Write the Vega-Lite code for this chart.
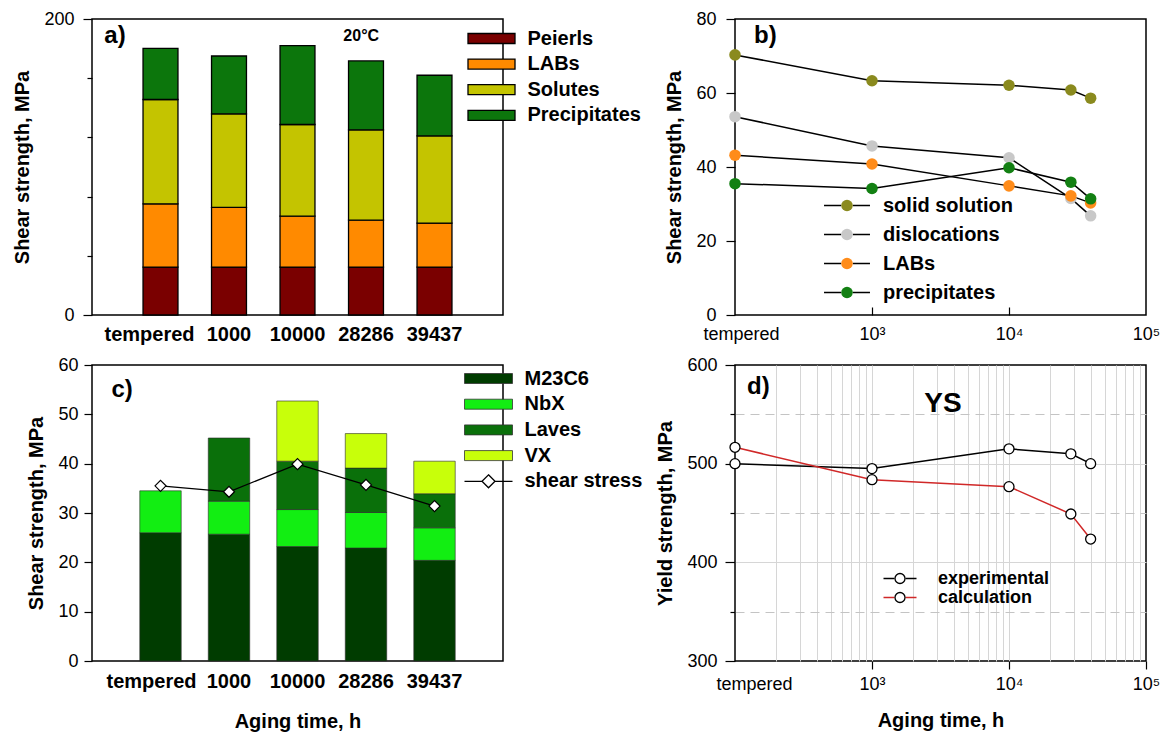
{
 "$schema": "https://vega.github.io/schema/vega-lite/v6.json",
 "padding": {"left": 12, "top": 9, "right": 5, "bottom": 0},
 "background": "white",
 "config": {
  "font": "Liberation Sans",
  "view": {"stroke": "black", "strokeWidth": 1.5},
  "axis": {"domain": false, "grid": false, "labelFont": "Liberation Sans", "labelFontSize": 18, "labelColor": "black", "titleFont": "Liberation Sans", "titleFontSize": 20, "titleFontWeight": "bold", "titleColor": "black", "tickColor": "black", "tickWidth": 1.2, "labelFlush": false, "labelOverlap": false, "labelBound": false},
  "legend": {"padding": 0, "labelFont": "Liberation Sans", "labelColor": "black", "labelFontWeight": "bold", "labelLimit": 400, "orient": "none"},
  "text": {"font": "Liberation Sans", "color": "black"}
 },
 "datasets": {
  "a": [
   {"time": "tempered", "component": "Peierls", "value": 32.4}, {"time": "tempered", "component": "LABs", "value": 42.7}, {"time": "tempered", "component": "Solutes", "value": 70.5}, {"time": "tempered", "component": "Precipitates", "value": 34.6},
   {"time": "1000", "component": "Peierls", "value": 32.4}, {"time": "1000", "component": "LABs", "value": 40.3}, {"time": "1000", "component": "Solutes", "value": 63.2}, {"time": "1000", "component": "Precipitates", "value": 39.1},
   {"time": "10000", "component": "Peierls", "value": 32.4}, {"time": "10000", "component": "LABs", "value": 34.4}, {"time": "10000", "component": "Solutes", "value": 61.9}, {"time": "10000", "component": "Precipitates", "value": 53.3},
   {"time": "28286", "component": "Peierls", "value": 32.4}, {"time": "28286", "component": "LABs", "value": 31.7}, {"time": "28286", "component": "Solutes", "value": 61.0}, {"time": "28286", "component": "Precipitates", "value": 46.6},
   {"time": "39437", "component": "Peierls", "value": 32.4}, {"time": "39437", "component": "LABs", "value": 29.7}, {"time": "39437", "component": "Solutes", "value": 58.9}, {"time": "39437", "component": "Precipitates", "value": 41.0}
  ],
  "b": [
   {"t": 100, "s": "solid solution", "v": 70.3}, {"t": 1000, "s": "solid solution", "v": 63.3}, {"t": 10000, "s": "solid solution", "v": 62.1}, {"t": 28286, "s": "solid solution", "v": 60.8}, {"t": 39437, "s": "solid solution", "v": 58.6},
   {"t": 100, "s": "dislocations", "v": 53.6}, {"t": 1000, "s": "dislocations", "v": 45.7}, {"t": 10000, "s": "dislocations", "v": 42.5}, {"t": 28286, "s": "dislocations", "v": 31.5}, {"t": 39437, "s": "dislocations", "v": 26.8},
   {"t": 100, "s": "LABs", "v": 43.2}, {"t": 1000, "s": "LABs", "v": 40.8}, {"t": 10000, "s": "LABs", "v": 34.9}, {"t": 28286, "s": "LABs", "v": 32.2}, {"t": 39437, "s": "LABs", "v": 30.3},
   {"t": 100, "s": "precipitates", "v": 35.5}, {"t": 1000, "s": "precipitates", "v": 34.2}, {"t": 10000, "s": "precipitates", "v": 39.8}, {"t": 28286, "s": "precipitates", "v": 35.9}, {"t": 39437, "s": "precipitates", "v": 31.4}
  ],
  "c": [
   {"time": "tempered", "phase": "M23C6", "v": 26.0}, {"time": "tempered", "phase": "NbX", "v": 8.5},
   {"time": "1000", "phase": "M23C6", "v": 25.7}, {"time": "1000", "phase": "NbX", "v": 6.7}, {"time": "1000", "phase": "Laves", "v": 12.8},
   {"time": "10000", "phase": "M23C6", "v": 23.2}, {"time": "10000", "phase": "NbX", "v": 7.5}, {"time": "10000", "phase": "Laves", "v": 9.8}, {"time": "10000", "phase": "VX", "v": 12.2},
   {"time": "28286", "phase": "M23C6", "v": 22.9}, {"time": "28286", "phase": "NbX", "v": 7.2}, {"time": "28286", "phase": "Laves", "v": 9.0}, {"time": "28286", "phase": "VX", "v": 7.0},
   {"time": "39437", "phase": "M23C6", "v": 20.4}, {"time": "39437", "phase": "NbX", "v": 6.6}, {"time": "39437", "phase": "Laves", "v": 6.9}, {"time": "39437", "phase": "VX", "v": 6.6}
  ],
  "cs": [
   {"time": "tempered", "s": "shear stress", "v": 35.5}, {"time": "1000", "s": "shear stress", "v": 34.3}, {"time": "10000", "s": "shear stress", "v": 39.9}, {"time": "28286", "s": "shear stress", "v": 35.7}, {"time": "39437", "s": "shear stress", "v": 31.4}
  ],
  "d": [
   {"t": 100, "s": "experimental", "v": 500}, {"t": 1000, "s": "experimental", "v": 495}, {"t": 10000, "s": "experimental", "v": 515}, {"t": 28286, "s": "experimental", "v": 510}, {"t": 39437, "s": "experimental", "v": 500},
   {"t": 100, "s": "calculation", "v": 516.6}, {"t": 1000, "s": "calculation", "v": 483.8}, {"t": 10000, "s": "calculation", "v": 476.7}, {"t": 28286, "s": "calculation", "v": 449}, {"t": 39437, "s": "calculation", "v": 423.6}
  ]
 },
 "columns": 2,
 "spacing": {"row": 50, "column": 232},
 "bounds": "flush",
 "resolve": {
  "scale": {"color": "independent", "stroke": "independent", "shape": "independent", "fill": "independent", "x": "independent", "y": "independent"},
  "legend": {"color": "independent", "stroke": "independent", "shape": "independent", "fill": "independent"}
 },
 "concat": [
  {
   "width": 411, "height": 296,
   "resolve": {"scale": {"x": "independent"}},
   "layer": [
    {
     "data": {"name": "a"},
     "transform": [{"calculate": "indexof(['Peierls','LABs','Solutes','Precipitates'], datum.component)", "as": "ord"}],
     "mark": {"type": "bar", "stroke": "black", "strokeWidth": 1.3},
     "encoding": {
      "x": {"field": "time", "type": "nominal", "sort": ["tempered", "1000", "10000", "28286", "39437"], "scale": {"paddingInner": 0.49, "paddingOuter": 0.745}, "axis": {"title": null, "labelAngle": 0, "ticks": false, "labelFontWeight": "bold", "labelFontSize": 20, "labelPadding": 9, "labelOffset": {"condition": {"test": "datum.value == 'tempered'", "value": -11}, "value": 0}}},
      "y": {"field": "value", "type": "quantitative", "stack": "zero", "scale": {"domain": [0, 200], "nice": false}, "axis": {"title": "Shear strength, MPa", "values": [0, 20, 40, 60, 80, 100, 120, 140, 160, 180, 200], "labelExpr": "datum.value % 100 == 0 ? datum.label : ''", "tickSize": {"condition": {"test": "datum.value % 100 == 0", "value": 9}, "value": 5}, "labelPadding": 9, "titlePadding": 11}},
      "color": {"field": "component", "type": "nominal", "scale": {"domain": ["Peierls", "LABs", "Solutes", "Precipitates"], "range": ["#7A0000", "#FF8A00", "#C4C400", "#0C760C"]}, "legend": {"orient": "none", "legendX": 389.5, "legendY": 9.5, "title": null, "symbolType": "M-4.7,-1H4.7V1H-4.7Z", "symbolSize": 100, "symbolStrokeColor": "black", "symbolStrokeWidth": 1.3, "labelFontSize": 20, "labelOffset": 26, "rowPadding": 5.6}},
      "order": {"field": "ord", "type": "quantitative"}
     }
    },
    {
     "data": {"values": [{"x": 0.18, "y": 188.4, "t": "a)"}]},
     "mark": {"type": "text", "align": "left", "baseline": "middle", "fontSize": 24, "fontWeight": "bold"},
     "encoding": {"x": {"field": "x", "type": "quantitative", "scale": {"domain": [0, 6], "nice": false}, "axis": null}, "y": {"field": "y", "type": "quantitative"}, "text": {"field": "t"}}
    },
    {
     "data": {"values": [{"x": 3.93, "y": 188.2, "t": "20°C"}]},
     "mark": {"type": "text", "align": "center", "baseline": "middle", "fontSize": 16, "fontWeight": "bold"},
     "encoding": {"x": {"field": "x", "type": "quantitative", "scale": {"domain": [0, 6], "nice": false}, "axis": null}, "y": {"field": "y", "type": "quantitative"}, "text": {"field": "t"}}
    }
   ]
  },
  {
   "width": 411, "height": 296,
   "resolve": {"scale": {"x": "independent"}},
   "layer": [
    {
     "layer": [
      {
       "data": {"name": "b"},
       "mark": {"type": "line", "strokeWidth": 1.5},
       "encoding": {
        "x": {"field": "t", "type": "quantitative", "scale": {"type": "log", "domain": [100, 100000], "nice": false}, "axis": {"title": null, "values": [100, 1000, 10000, 100000], "labelExpr": "datum.value == 100 ? 'tempered' : datum.value == 1000 ? '10³' : datum.value == 10000 ? '10⁴' : '10⁵'", "ticks": false, "labelPadding": 10, "labelOffset": {"condition": {"test": "datum.value == 100", "value": 6}, "value": 0}}},
        "y": {"field": "v", "type": "quantitative", "scale": {"domain": [0, 80], "nice": false}, "axis": {"title": "Shear strength, MPa", "values": [0, 20, 40, 60, 80], "tickSize": 9, "labelPadding": 10, "titlePadding": 11}},
        "stroke": {"field": "s", "type": "nominal", "scale": {"domain": ["precipitates", "LABs", "dislocations", "solid solution"], "range": ["black", "black", "black", "black"]}, "legend": {"orient": "none", "legendX": 102, "legendY": 176.5, "title": null, "symbolType": "M-4,0H-1M1,0H4", "symbolSize": 132, "symbolStrokeWidth": 1.5, "labelFontSize": 20, "labelOffset": 26, "rowPadding": 9, "labelExpr": "''"}}
       }
      },
      {
       "data": {"name": "b"},
       "mark": {"type": "circle", "size": 133, "opacity": 1},
       "encoding": {
        "x": {"field": "t", "type": "quantitative"},
        "y": {"field": "v", "type": "quantitative"},
        "color": {"field": "s", "type": "nominal", "scale": {"domain": ["solid solution", "dislocations", "LABs", "precipitates"], "range": ["#8A8A1E", "#C8C8C8", "#FF8C1A", "#138013"]}, "legend": {"orient": "none", "legendX": 102, "legendY": 176.5, "title": null, "symbolType": "circle", "symbolSize": 133, "symbolStrokeWidth": 0, "labelFontSize": 20, "labelOffset": 26, "rowPadding": 9}}
       }
      }
     ]
    },
    {
     "data": {"values": [{"x": 137.7, "y": 75.3, "t": "b)"}]},
     "mark": {"type": "text", "align": "left", "baseline": "middle", "fontSize": 24, "fontWeight": "bold"},
     "encoding": {"x": {"field": "x", "type": "quantitative", "scale": {"type": "log", "domain": [100, 100000], "nice": false}, "axis": {"orient": "top", "offset": -296, "values": [1000, 10000], "labels": false, "ticks": true, "tickSize": 8, "title": null, "domain": false, "grid": false}}, "y": {"field": "y", "type": "quantitative"}, "text": {"field": "t"}}
    }
   ]
  },
  {
   "width": 411, "height": 296,
   "resolve": {"scale": {"x": "independent"}},
   "layer": [
    {
     "layer": [
      {
       "data": {"name": "c"},
       "transform": [{"calculate": "indexof(['M23C6','NbX','Laves','VX'], datum.phase)", "as": "ord"}],
       "mark": {"type": "bar", "stroke": "#2a2a2a", "strokeWidth": 0.6},
       "encoding": {
        "x": {"field": "time", "type": "nominal", "sort": ["tempered", "1000", "10000", "28286", "39437"], "scale": {"paddingInner": 0.395, "paddingOuter": 0.6975}, "axis": {"title": "Aging time, h", "labelAngle": 0, "ticks": false, "labelFontWeight": "bold", "labelFontSize": 20, "labelPadding": 10, "titlePadding": 20, "labelOffset": {"condition": {"test": "datum.value == 'tempered'", "value": -9}, "value": 0}}},
        "y": {"field": "v", "type": "quantitative", "stack": "zero", "scale": {"domain": [0, 60], "nice": false}, "axis": {"title": "Shear strength, MPa", "values": [0, 10, 20, 30, 40, 50, 60], "tickSize": 8, "labelPadding": 6, "titlePadding": 11}},
        "color": {"field": "phase", "type": "nominal", "scale": {"domain": ["M23C6", "NbX", "Laves", "VX"], "range": ["#003C00", "#12EE12", "#0A700A", "#C8FF0A"]}, "legend": {"orient": "none", "legendX": 386.5, "legendY": 3.5, "title": null, "symbolType": "M-4.8,-1H4.8V1H-4.8Z", "symbolSize": 100, "symbolStrokeColor": "#333333", "symbolStrokeWidth": 0.8, "labelFontSize": 20, "labelOffset": 26, "rowPadding": 5.7}},
        "order": {"field": "ord", "type": "quantitative"}
       }
      },
      {
       "data": {"name": "cs"},
       "mark": {"type": "line", "strokeWidth": 1.3},
       "encoding": {
        "x": {"field": "time", "type": "nominal", "sort": ["tempered", "1000", "10000", "28286", "39437"]},
        "y": {"field": "v", "type": "quantitative"},
        "order": {"value": null},
        "stroke": {"field": "s", "type": "nominal", "scale": {"domain": ["shear stress"], "range": ["black"]}, "legend": {"orient": "none", "legendX": 386.5, "legendY": 106.3, "title": null, "symbolType": "M-4.8,0H-1.3M1.3,0H4.8M0,-1.3L1.3,0L0,1.3L-1.3,0Z", "symbolSize": 100, "symbolStrokeWidth": 1.3, "symbolFillColor": "white", "labelFontSize": 20, "labelOffset": 26}}
       }
      },
      {
       "data": {"name": "cs"},
       "mark": {"type": "point", "shape": "diamond", "filled": true, "fill": "white", "stroke": "black", "strokeWidth": 1.2, "size": 121, "opacity": 1},
       "encoding": {
        "x": {"field": "time", "type": "nominal", "sort": ["tempered", "1000", "10000", "28286", "39437"]},
        "y": {"field": "v", "type": "quantitative"}
       }
      }
     ]
    },
    {
     "data": {"values": [{"x": 0.285, "y": 55.0, "t": "c)"}]},
     "mark": {"type": "text", "align": "left", "baseline": "middle", "fontSize": 24, "fontWeight": "bold"},
     "encoding": {"x": {"field": "x", "type": "quantitative", "scale": {"domain": [0, 6], "nice": false}, "axis": null}, "y": {"field": "y", "type": "quantitative"}, "text": {"field": "t"}}
    }
   ]
  },
  {
   "width": 411, "height": 296,
   "layer": [
    {
     "data": {"name": "d"},
     "mark": {"type": "line", "strokeWidth": 1.5},
     "encoding": {
      "x": {"field": "t", "type": "quantitative", "scale": {"type": "log", "domain": [100, 100000], "nice": false}, "axis": {"title": "Aging time, h", "values": [100, 200, 300, 400, 500, 600, 700, 800, 900, 1000, 2000, 3000, 4000, 5000, 6000, 7000, 8000, 9000, 10000, 20000, 30000, 40000, 50000, 60000, 70000, 80000, 90000, 100000], "labelExpr": "datum.value == 100 ? 'tempered' : datum.value == 1000 ? '10³' : datum.value == 10000 ? '10⁴' : datum.value == 100000 ? '10⁵' : ''", "grid": true, "gridColor": "#d6d6d6", "gridWidth": 1, "gridOpacity": {"condition": {"test": "datum.value == 100 || datum.value == 100000", "value": 0}, "value": 1}, "tickOpacity": {"condition": {"test": "datum.value == 1000 || datum.value == 10000 || datum.value == 100000", "value": 1}, "value": 0}, "tickSize": 8, "labelPadding": 6, "labelOffset": {"condition": {"test": "datum.value == 100", "value": 19}, "value": 0}, "titlePadding": 17}},
      "y": {"field": "v", "type": "quantitative", "scale": {"domain": [300, 600], "nice": false}, "axis": {"title": "Yield strength, MPa", "values": [300, 350, 400, 450, 500, 550, 600], "labelExpr": "datum.value % 100 == 0 ? datum.label : ''", "grid": true, "gridColor": {"condition": {"test": "datum.value % 100 == 0", "value": "#d6d6d6"}, "value": "#c4c4c4"}, "gridDash": {"condition": {"test": "datum.value % 100 == 0", "value": []}, "value": [9, 6]}, "gridOpacity": {"condition": {"test": "datum.value == 300 || datum.value == 600", "value": 0}, "value": 1}, "tickSize": {"condition": {"test": "datum.value % 100 == 0", "value": 10}, "value": 5}, "labelPadding": 8, "titlePadding": 11}},
      "stroke": {"field": "s", "type": "nominal", "scale": {"domain": ["experimental", "calculation"], "range": ["black", "#D02828"]}, "legend": {"orient": "none", "legendX": 156, "legendY": 204.5, "title": null, "symbolType": "M-3,0H-1M1,0H3", "symbolSize": 121, "symbolStrokeWidth": 1.5, "labelFontSize": 18, "labelOffset": 29, "rowPadding": 1}}
     }
    },
    {
     "data": {"name": "d"},
     "mark": {"type": "point", "shape": "circle", "filled": true, "stroke": "black", "strokeWidth": 1.3, "size": 100, "opacity": 1},
     "encoding": {
      "x": {"field": "t", "type": "quantitative"},
      "y": {"field": "v", "type": "quantitative"},
      "fill": {"field": "s", "type": "nominal", "scale": {"domain": ["calculation", "experimental"], "range": ["white", "white"]}, "legend": {"orient": "none", "legendX": 156, "legendY": 204.5, "title": null, "symbolType": "circle", "symbolSize": 100, "symbolStrokeWidth": 1.3, "symbolStrokeColor": "black", "labelFontSize": 18, "labelOffset": 29, "rowPadding": 1, "labelExpr": "''"}}
     }
    },
    {
     "data": {"values": [{"x": 122.4, "y": 578.2, "t": "d)"}]},
     "mark": {"type": "text", "align": "left", "baseline": "middle", "fontSize": 24, "fontWeight": "bold"},
     "encoding": {"x": {"field": "x", "type": "quantitative"}, "y": {"field": "y", "type": "quantitative"}, "text": {"field": "t"}}
    },
    {
     "data": {"values": [{"x": 3296, "y": 560, "t": "YS"}]},
     "mark": {"type": "text", "align": "center", "baseline": "middle", "fontSize": 28, "fontWeight": "bold"},
     "encoding": {"x": {"field": "x", "type": "quantitative"}, "y": {"field": "y", "type": "quantitative"}, "text": {"field": "t"}}
    }
   ]
  }
 ]
}
